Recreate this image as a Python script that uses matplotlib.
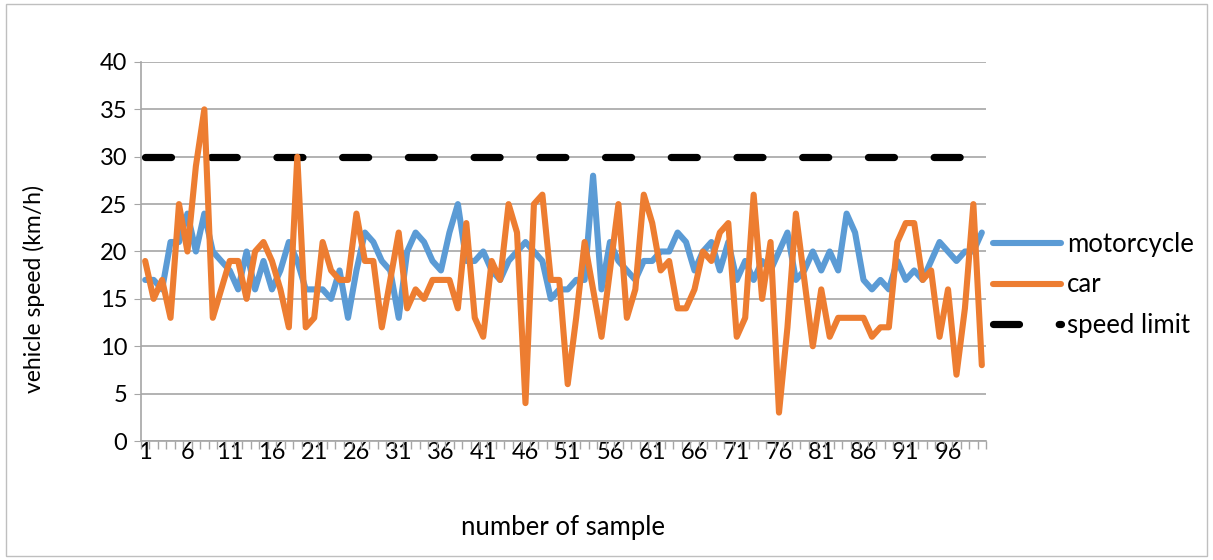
import numpy as np
import matplotlib
matplotlib.use("Agg")
import matplotlib.pyplot as plt
from matplotlib.patches import Rectangle

# speed readings per sample, km/h
motorcycle = [17, 17, 16, 21, 21, 24, 20, 24, 20, 19,
              18, 16, 20, 16, 19, 16, 18, 21, 19, 16,
              16, 16, 15, 18, 13, 18, 22, 21, 19, 18,
              13, 20, 22, 21, 19, 18, 22, 25, 19, 19,
              20, 18, 17, 19, 20, 21, 20, 19, 15, 16,
              16, 17, 17, 28, 16, 21, 19, 18, 17, 19,
              19, 20, 20, 22, 21, 18, 20, 21, 18, 21,
              17, 19, 17, 19, 18, 20, 22, 17, 18, 20,
              18, 20, 18, 24, 22, 17, 16, 17, 16, 19,
              17, 18, 17, 19, 21, 20, 19, 20, 20, 22]
car = [19, 15, 17, 13, 25, 20, 29, 35, 13, 16,
       19, 19, 15, 20, 21, 19, 16, 12, 30, 12,
       13, 21, 18, 17, 17, 24, 19, 19, 12, 17,
       22, 14, 16, 15, 17, 17, 17, 14, 23, 13,
       11, 19, 17, 25, 22, 4, 25, 26, 17, 17,
       6, 13, 21, 16, 11, 18, 25, 13, 16, 26,
       23, 18, 19, 14, 14, 16, 20, 19, 22, 23,
       11, 13, 26, 15, 21, 3, 12, 24, 17, 10,
       16, 11, 13, 13, 13, 13, 11, 12, 12, 21,
       23, 23, 17, 18, 11, 16, 7, 14, 25, 8]
speed_limit = [30] * 100

sample = np.arange(1, len(car) + 1)

BLUE = "#5B9BD5"
ORANGE = "#ED7D31"
GRID = "#A6A6A6"

plt.rcParams["font.family"] = ["Lato", "DejaVu Sans"]
plt.rcParams["font.size"] = 17

fig = plt.figure(figsize=(12.13, 5.60), dpi=100)
ax = fig.add_axes([0.1162, 0.2125, 0.6967, 0.6768])

lw = 4.4
limit, = ax.plot(sample, speed_limit, color="black", lw=5.2, zorder=2,
                 label="speed limit", dash_capstyle="round")
limit.set_dashes((3.6, 5.5))
ax.plot(sample, motorcycle, color=BLUE, lw=lw, zorder=3, label="motorcycle",
        solid_joinstyle="round", solid_capstyle="round")
ax.plot(sample, car, color=ORANGE, lw=lw, zorder=4, label="car",
        solid_joinstyle="round", solid_capstyle="round")

ax.set_xlim(0.5, 100.5)
ax.set_ylim(0, 40)
ax.set_yticks(np.arange(0, 41, 5))
ax.set_xticks(np.arange(1, 101, 5))
ax.set_xticks(np.arange(0.5, 101, 1), minor=True)
ax.tick_params(axis="x", which="major", length=0, pad=1)
ax.tick_params(axis="x", which="minor", length=6, color=GRID, width=1)
ax.tick_params(axis="y", length=5, color=GRID, pad=5)
ax.grid(axis="y", color=GRID, lw=1.2)
ax.set_axisbelow(True)
for side in ("top", "right"):
    ax.spines[side].set_visible(False)
for side in ("left", "bottom"):
    ax.spines[side].set_color(GRID)
    ax.spines[side].set_linewidth(1.2)

ax.set_xlabel("number of sample", fontsize=18.5)
ax.set_ylabel("vehicle speed (km/h)", fontsize=16.5)
ax.xaxis.set_label_coords(0.5, -0.196)
ax.yaxis.set_label_coords(-0.113, 0.4)

handles, labels = ax.get_legend_handles_labels()
order = [1, 2, 0]
fig.legend([handles[i] for i in order], [labels[i] for i in order],
           loc="center left", bbox_to_anchor=(993 / 1213, 1 - 285 / 560),
           fontsize=18.5, frameon=False, handlelength=2.65, handletextpad=0.22,
           labelspacing=0.62, borderpad=0, borderaxespad=0)

fig.patches.append(Rectangle((0.005, 0.008), 0.99, 0.984, transform=fig.transFigure,
                             fill=False, edgecolor="#BFBFBF", lw=1))

fig.savefig("out.png", dpi=100)
